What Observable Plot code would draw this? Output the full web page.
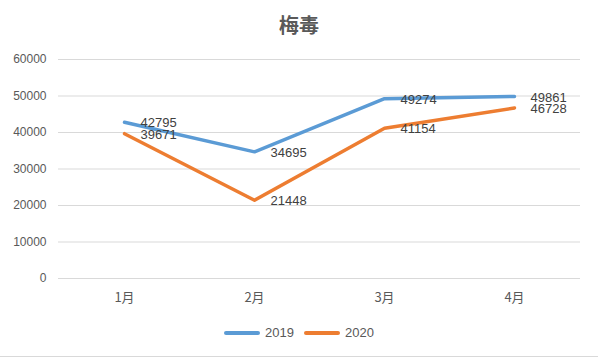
<!DOCTYPE html>
<html><head><meta charset="utf-8">
<script src="https://cdn.jsdelivr.net/npm/d3@7"></script>
<script src="https://cdn.jsdelivr.net/npm/@observablehq/plot@0.6"></script>
<style>
body{margin:0;background:#fff;font-family:"Noto Sans CJK SC","Liberation Sans",sans-serif;}
#wrap{position:relative;width:598px;height:357px;overflow:hidden;border-bottom:1px solid #d9d9d9;box-sizing:border-box;}
#title{position:absolute;top:10px;left:0;width:598px;text-align:center;font-size:20px;font-weight:bold;color:#595959;line-height:30px;}
#chart{position:absolute;top:45px;left:0;}
#legend{position:absolute;top:325px;left:0;width:598px;display:flex;justify-content:center;gap:10px;font-size:13px;color:#595959;font-family:"Liberation Sans",sans-serif;}
.item{display:flex;align-items:center;gap:5px;}
.sw{width:36px;height:4px;border-radius:2px;}
</style></head>
<body><div id="wrap"><div id="title">梅毒</div><div id="chart"></div><div id="legend"></div></div>
<script>
const months = ["1月","2月","3月","4月"];
const series = ["2019","2020"];
const values2019 = [42795, 34695, 49274, 49861];
const values2020 = [39671, 21448, 41154, 46728];
const yTicks = [0,10000,20000,30000,40000,50000,60000];
const colors = ["#5B9BD5","#ED7D31"];

const data = [];
months.forEach((m,i)=>{data.push({month:m,series:"2019",value:values2019[i]});});
months.forEach((m,i)=>{data.push({month:m,series:"2020",value:values2020[i]});});

const chart = Plot.plot({
  width:598, height:275,
  marginLeft:58, marginRight:18, marginTop:14, marginBottom:42,
  style:{fontFamily:"\"Noto Sans CJK SC\",\"Liberation Sans\",sans-serif",fontSize:"12px",color:"#595959",background:"transparent"},
  x:{type:"point",domain:months,padding:0.5,label:null},
  y:{domain:[0,60000],label:null},
  color:{domain:series,range:colors},
  marks:[
    Plot.gridY(yTicks,{stroke:"#d9d9d9",strokeOpacity:1,strokeWidth:1}),
    Plot.axisY(yTicks,{tickSize:0,tickPadding:12,label:null,fontSize:12,fontFamily:"Liberation Sans, sans-serif",tickFormat:d=>String(d),fill:"#595959"}),
    Plot.axisX({tickSize:0,tickPadding:14,label:null,fontSize:13,fill:"#595959"}),
    Plot.line(data,{x:"month",y:"value",z:"series",stroke:"series",strokeWidth:3.5,strokeLinejoin:"round",strokeLinecap:"round"}),
    Plot.text(data,{x:"month",y:"value",text:d=>String(d.value),textAnchor:"start",dx:16,dy:1,fill:"#404040",fontSize:13,fontFamily:"Liberation Sans, sans-serif"})
  ]
});
document.getElementById("chart").appendChild(chart);

const lg = document.getElementById("legend");
series.forEach((s,i)=>{
  const it=document.createElement("div");it.className="item";
  const sw=document.createElement("div");sw.className="sw";sw.style.background=colors[i];
  const t=document.createElement("span");t.textContent=s;
  it.appendChild(sw);it.appendChild(t);lg.appendChild(it);
});
</script></body></html>
